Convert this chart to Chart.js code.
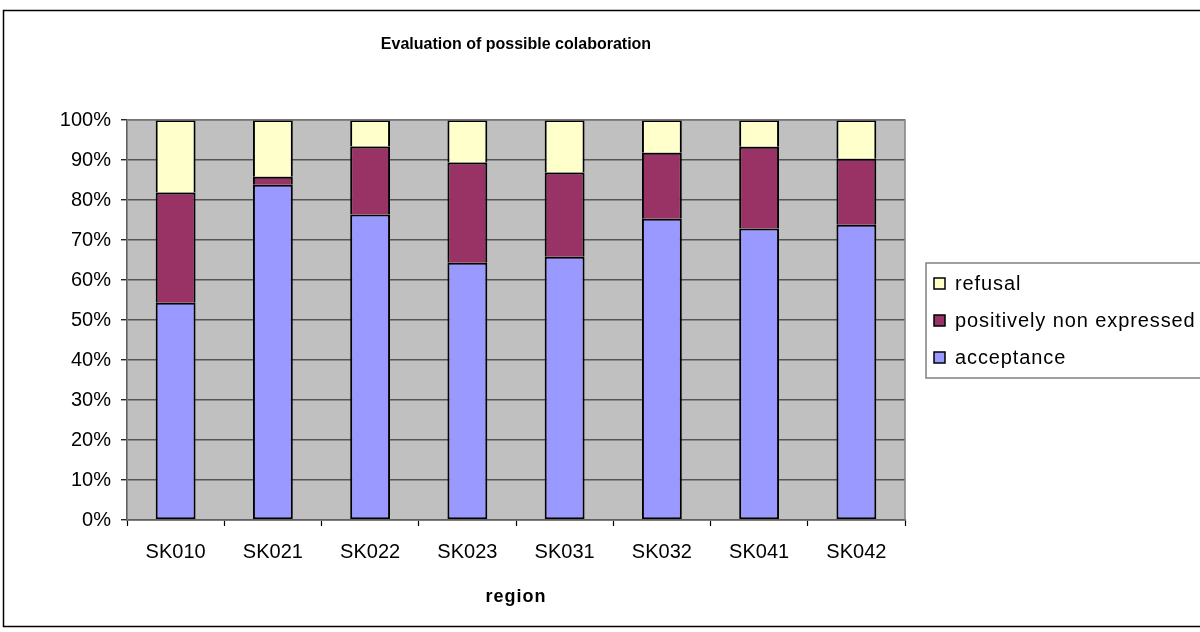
<!DOCTYPE html>
<html>
<head>
<meta charset="utf-8">
<script src="https://cdn.jsdelivr.net/npm/chart.js@4/dist/chart.umd.min.js"></script>
<style>
  html, body { margin: 0; padding: 0; background: #fff; }
  #wrap { width: 1200px; height: 632px; }
</style>
</head>
<body>
<div id="wrap"><canvas id="chart" width="1200" height="632"></canvas></div>
<script>
// values (percent of answers per region)
const regions = ["SK010", "SK021", "SK022", "SK023", "SK031", "SK032", "SK041", "SK042"];
const acceptance = [54.3, 83.8, 76.4, 64.3, 65.8, 75.3, 72.9, 73.8];
const nonExpressed = [27.6, 2.0, 17.0, 25.1, 21.1, 16.5, 20.4, 16.5];
const refusal = [18.1, 14.2, 6.6, 10.6, 13.1, 8.2, 6.7, 9.7];
const yTicks = [0, 10, 20, 30, 40, 50, 60, 70, 80, 90, 100];

const FONT = "'Liberation Sans', Arial, sans-serif";

// grey plot area, outer frame, title, axis title and the legend box
const excelLook = {
  id: "excelLook",
  beforeDraw(chart) {
    const { ctx, chartArea: a } = chart;
    ctx.save();
    ctx.fillStyle = "#c0c0c0";
    ctx.fillRect(a.left, a.top, a.right - a.left, a.bottom - a.top);
    ctx.restore();
  },
  afterDraw(chart) {
    const { ctx, chartArea: a } = chart;
    ctx.save();
    // plot border
    ctx.strokeStyle = "#808080";
    ctx.lineWidth = 1.5;
    ctx.strokeRect(a.left, a.top, a.right - a.left, a.bottom - a.top);
    // outer frame (runs off the right edge)
    ctx.strokeStyle = "#000";
    ctx.lineWidth = 1.5;
    ctx.strokeRect(3.5, 10.5, 1210, 616);

    const mid = (a.left + a.right) / 2;
    ctx.fillStyle = "#000";
    ctx.textAlign = "center";
    ctx.textBaseline = "middle";
    ctx.font = "bold 16px " + FONT;
    ctx.fillText("Evaluation of possible colaboration", mid, 45);
    ctx.font = "bold 18px " + FONT;
    ctx.letterSpacing = "1px";
    ctx.fillText("region", mid, 597);

    // legend, top to bottom: refusal, positively non expressed, acceptance
    ctx.letterSpacing = "0px";
    ctx.fillStyle = "#fff";
    ctx.fillRect(926, 263, 300, 115);
    ctx.strokeStyle = "#808080";
    ctx.lineWidth = 1.5;
    ctx.strokeRect(926, 263, 300, 115);
    const ds = chart.data.datasets.slice().reverse();
    ctx.font = "20px " + FONT;
    ctx.textAlign = "left";
    ds.forEach((d, i) => {
      const y = 284 + i * 37;
      ctx.fillStyle = d.backgroundColor;
      ctx.fillRect(934, y - 6, 11, 11);
      ctx.strokeStyle = "#000";
      ctx.lineWidth = 1.5;
      ctx.strokeRect(934, y - 6, 11, 11);
      ctx.fillStyle = "#000";
      ctx.letterSpacing = "0.9px";
      ctx.fillText(d.label, 955, y);
      ctx.letterSpacing = "0px";
    });
    ctx.restore();
  },
};

const barStyle = {
  borderColor: "#000",
  borderWidth: 2,
  barPercentage: 0.41,
  categoryPercentage: 1,
};

new Chart(document.getElementById("chart"), {
  type: "bar",
  data: {
    labels: regions,
    datasets: [
      // bottom segment gets the full outline, upper ones skip their base edge
      { label: "acceptance", data: acceptance, backgroundColor: "#9999ff", borderSkipped: false, ...barStyle },
      { label: "positively non expressed", data: nonExpressed, backgroundColor: "#993366", borderSkipped: "start", ...barStyle },
      { label: "refusal", data: refusal, backgroundColor: "#ffffcc", borderSkipped: "start", ...barStyle },
    ],
  },
  options: {
    responsive: false,
    animation: false,
    layout: { padding: { left: 57, right: 295, top: 120, bottom: 32 } },
    plugins: { legend: { display: false }, title: { display: false }, tooltip: { enabled: false } },
    scales: {
      x: {
        stacked: true,
        afterFit: (s) => { s.height = 80; },
        grid: { offset: true, drawOnChartArea: false, drawTicks: true, tickLength: 6, tickColor: "#000", tickWidth: 1.2 },
        border: { color: "#000", width: 1.2 },
        ticks: { color: "#000", font: { family: FONT, size: 20 }, padding: 14, maxRotation: 0 },
      },
      y: {
        stacked: true,
        min: 0,
        max: 100,
        afterFit: (s) => { s.width = 70; },
        afterBuildTicks: (s) => { s.ticks = yTicks.map((v) => ({ value: v })); },
        grid: { color: "#555", lineWidth: 1.5, tickLength: 6, tickColor: "#000", tickWidth: 1.2 },
        border: { color: "#000", width: 1.2 },
        ticks: { color: "#000", font: { family: FONT, size: 20 }, padding: 10, callback: (v) => v + "%" },
      },
    },
  },
  plugins: [excelLook],
});
</script>
</body>
</html>
